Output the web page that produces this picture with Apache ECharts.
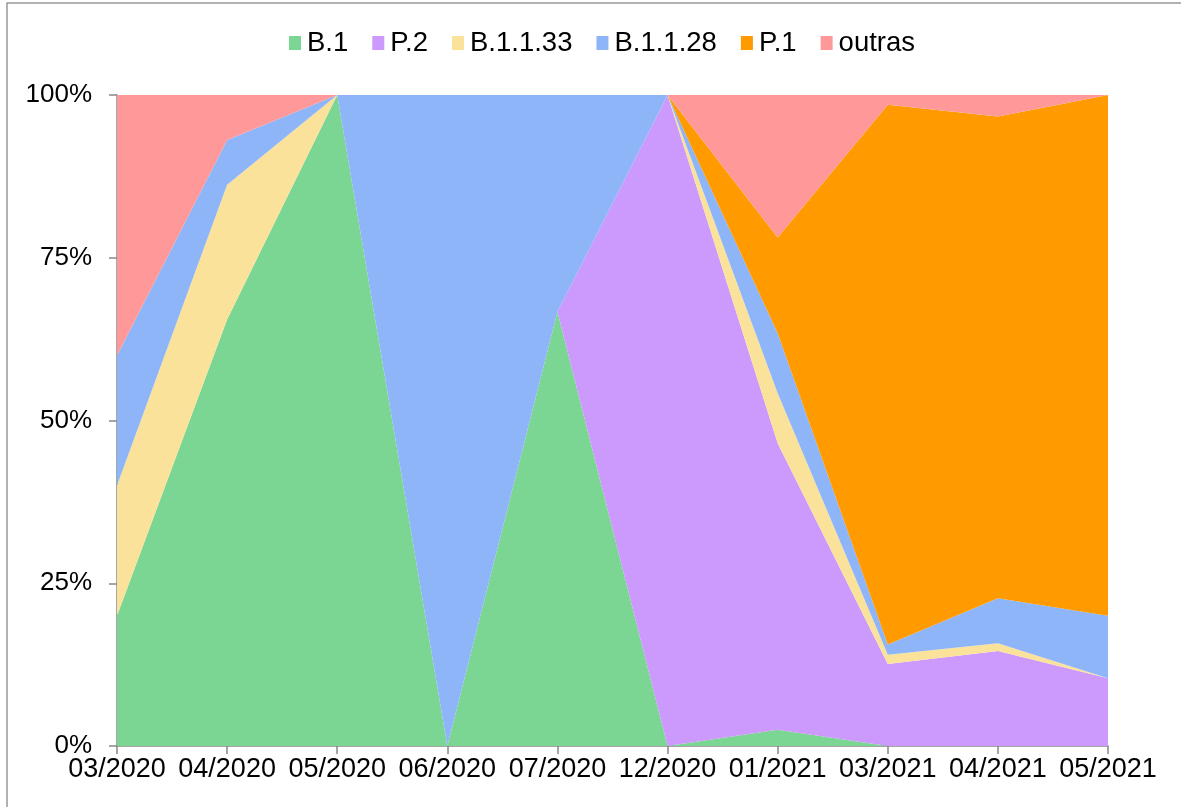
<!DOCTYPE html>
<html>
<head>
<meta charset="utf-8">
<script src="https://cdn.jsdelivr.net/npm/echarts@6/dist/echarts.min.js"></script>
<style>
  html, body { margin: 0; padding: 0; background: #fff; }
  #chart { width: 1181px; height: 807px; }
</style>
</head>
<body>
<div id="chart"></div>
<script>
const months = ['03/2020', '04/2020', '05/2020', '06/2020', '07/2020', '12/2020', '01/2021', '03/2021', '04/2021', '05/2021'];

// percent of sequenced samples per lineage
const b1 = [20, 65.5, 100, 0, 66.7, 0, 2.5, 0, 0, 0];
const p2 = [0, 0, 0, 0, 0, 100, 44, 12.6, 14.6, 10.4];
const b1133 = [20, 20.7, 0, 0, 0, 0, 7.7, 1.4, 1.2, 0];
const b1128 = [20, 6.9, 0, 100, 33.3, 0, 9.2, 1.6, 6.9, 9.6];
const p1 = [0, 0, 0, 0, 0, 0, 14.7, 82.9, 74, 80];
const outras = [40, 6.9, 0, 0, 0, 0, 21.9, 1.5, 3.3, 0];

const yTicks = [0, 25, 50, 75, 100];

const lineages = [
  { name: 'B.1', data: b1, color: '#7bd593' },
  { name: 'P.2', data: p2, color: '#cc99fc' },
  { name: 'B.1.1.33', data: b1133, color: '#fbe29b' },
  { name: 'B.1.1.28', data: b1128, color: '#8fb5f9' },
  { name: 'P.1', data: p1, color: '#ff9a00' },
  { name: 'outras', data: outras, color: '#ff9999' }
];

const font = 'Liberation Sans, Arial, sans-serif';

const chart = echarts.init(document.getElementById('chart'));
chart.setOption({
  animation: false,
  textStyle: { fontFamily: font },
  graphic: [{
    type: 'rect',
    shape: { x: 7, y: 3, width: 1300, height: 900 },
    style: { fill: 'none', stroke: '#999', lineWidth: 1.5 },
    silent: true
  }],
  legend: {
    top: 29,
    left: 289,
    padding: 0,
    itemWidth: 12,
    itemHeight: 14,
    itemGap: 24,
    icon: 'rect',
    textStyle: { fontSize: 27.5, color: '#000', fontFamily: font, padding: [0, 0, 0, 1] },
    data: lineages.map(l => l.name)
  },
  grid: { left: 117, right: 73, top: 95, bottom: 61, containLabel: false },
  xAxis: {
    type: 'category',
    boundaryGap: false,
    data: months,
    axisLine: { lineStyle: { color: '#888', width: 1.5 } },
    axisTick: { show: true, length: 8, alignWithLabel: true, lineStyle: { color: '#888', width: 1.5 } },
    axisLabel: { color: '#000', fontSize: 27, margin: 10, interval: 0 }
  },
  yAxis: {
    type: 'value',
    min: 0,
    max: 100,
    interval: 25,
    axisLine: { show: true, lineStyle: { color: '#888', width: 1.5 } },
    axisTick: { show: true, length: 8, lineStyle: { color: '#888', width: 1.5 } },
    splitLine: { show: false },
    axisLabel: {
      color: '#000', fontSize: 26, margin: 25,
      formatter: v => (yTicks.includes(v) ? v + '%' : '')
    }
  },
  series: lineages.map(l => ({
    name: l.name,
    type: 'line',
    stack: 'total',
    data: l.data,
    showSymbol: false,
    symbol: 'none',
    lineStyle: { width: 0 },
    itemStyle: { color: l.color },
    areaStyle: { color: l.color, opacity: 1 }
  }))
});
</script>
</body>
</html>
